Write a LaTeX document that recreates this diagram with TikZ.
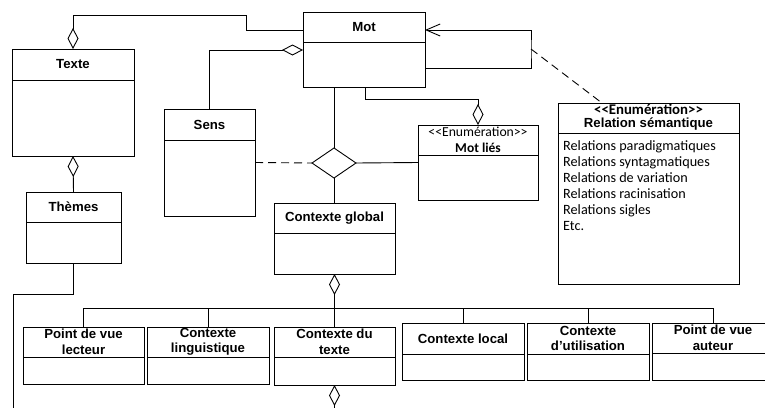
\documentclass[tikz,border=0pt]{standalone}
\usepackage{fontspec}
\setmainfont{Liberation Sans}
\newfontfamily\calibri{Carlito}[Ligatures=TeXOff]
\usetikzlibrary{arrows.meta,calc,shapes.geometric}
\newcommand\umlcls[7]{%
  \node[box, minimum width=#4pt, minimum height=#6pt] (#1) at (#2,#3) {};
  \draw[ln] ($(#1.north west)+(0,#5)$) -- ($(#1.north east)+(0,#5)$);
  \node[title] (#1-t) at ($(#1.north)+(0,#5/2)$) {#7};
}
\begin{document}
\begin{tikzpicture}[x=1pt,y=-1pt,
  ln/.style={line width=0.9pt},
  box/.style={draw, ln, inner sep=0pt, outer sep=0pt, anchor=north west},
  title/.style={font=\fontsize{13.2}{15.5}\selectfont\bfseries, align=center, inner sep=0pt},
  agg/.style={ln, -{Diamond[open, length=21pt, width=11pt, line width=0.9pt]}},
  nav/.style={ln, -{Straight Barb[length=14pt, width=12pt, line width=0.9pt]}},
  dep/.style={ln, dash pattern=on 8pt off 5pt},
  assocd/.style={draw, ln, diamond, aspect=1.4667, minimum width=44pt, minimum height=30pt, inner sep=0pt, outer sep=0pt},
  enum/.style={font=\calibri\fontsize{13.7}{15}\selectfont, inner sep=0pt},
  enumb/.style={font=\calibri\bfseries\fontsize{13.5}{14}\selectfont, inner sep=0pt},
  enumbig/.style={font=\calibri\bfseries\fontsize{14.8}{16}\selectfont, inner sep=0pt},
  items/.style={font=\calibri\fontsize{14.2}{16}\selectfont, align=left, inner sep=0pt, anchor=north west}
]
\fill[white] (0,0) rectangle (765,407);
\useasboundingbox (0,0) rectangle (765,407);

% classes
\umlcls{mot}{303}{12}{122}{30}{75}{Mot}
\umlcls{texte}{12}{49}{122}{31}{107}{Texte}
\umlcls{sens}{164}{109}{91}{31}{107}{Sens}
\umlcls{themes}{26}{192}{95}{30}{71}{Thèmes}
\umlcls{motlies}{418}{125}{120}{30}{75}{}
\node[enum] (motlies-s) at ($(motlies.north)+(0,6.5)$) {<<Enumération>>};
\node[enumb] (motlies-n) at ($(motlies.north)+(0,22.5)$) {Mot liés};
\umlcls{rel}{558}{103}{181}{30}{181}{}
\node[enumbig] (rel-s) at ($(rel.north)+(0,6)$) {<<Enumération>>};
\node[title] (rel-n) at ($(rel.north)+(0,21.5)$) {Relation sémantique};
\node[items] (rel-i) at ($(rel.north west)+(5,37)$) {Relations paradigmatiques\\Relations syntagmatiques\\Relations de variation\\Relations racinisation\\Relations sigles\\Etc.};
\umlcls{cglob}{274}{203}{121}{30}{71}{Contexte global}
\umlcls{pvl}{23}{327}{121}{30}{57}{Point de vue\\lecteur}
\umlcls{cling}{147}{327}{122}{30}{57}{Contexte\\linguistique}
\umlcls{ctexte}{274}{327}{121}{30}{58}{Contexte du\\texte}
\umlcls{cloc}{402}{323}{122}{31}{57}{Contexte local}
\umlcls{cutil}{527}{323}{122}{31}{57}{Contexte\\d’utilisation}
\umlcls{pva}{652}{323}{122}{30}{57}{Point de vue\\auteur}

% association diamond
\node[assocd] (assoc) at (334,163) {};

% connectors
\draw[agg] ($(mot.north west)+(0,18)$) -- ++(-57,0) -- ++(0,-15) -| (texte.north);
\draw[agg] (sens.north) |- ($(mot.north west)+(0,38)$);
\draw[agg] (themes.north) -- (texte.south);
\coordinate (leftend) at (13,412);
\draw[ln] (themes.south) -- ++(0,31) -| (leftend);
\draw[ln] (assoc.north) -- (assoc.north |- mot.south);
\draw[ln] (assoc.south) -- (assoc.south |- cglob.north);
\draw[dep] (sens.east) -- (assoc.west);
\draw[ln] (assoc.east) -- (motlies.west);
\draw[agg] ($(mot.south west)+(62,0)$) -- ++(0,12) -| (motlies.north);
\draw[nav] ($(mot.south east)+(0,-19)$) -- ++(106,0) -- ++(0,-19) coordinate (selfmid) -- ++(0,-19) -- ($(mot.north east)+(0,18)$);
\draw[dep] (selfmid) -- ($(rel.north west)+(44,0)$);

% contexte global composition
\coordinate (bus) at ($(pvl.north)+(0,-19)$);
\draw[agg] (ctexte.north) -- (cglob.south);
\draw[ln] (pvl.north) -- (bus) -| (pva.north);
\draw[ln] (cling.north) -- (cling.north |- bus);
\draw[ln] (cloc.north) -- (cloc.north |- bus);
\draw[ln] (cutil.north) -- (cutil.north |- bus);
\coordinate (ctbelow) at ($(ctexte.south)+(0,40)$);
\draw[agg] (ctbelow) -- (ctexte.south);
\end{tikzpicture}
\end{document}
